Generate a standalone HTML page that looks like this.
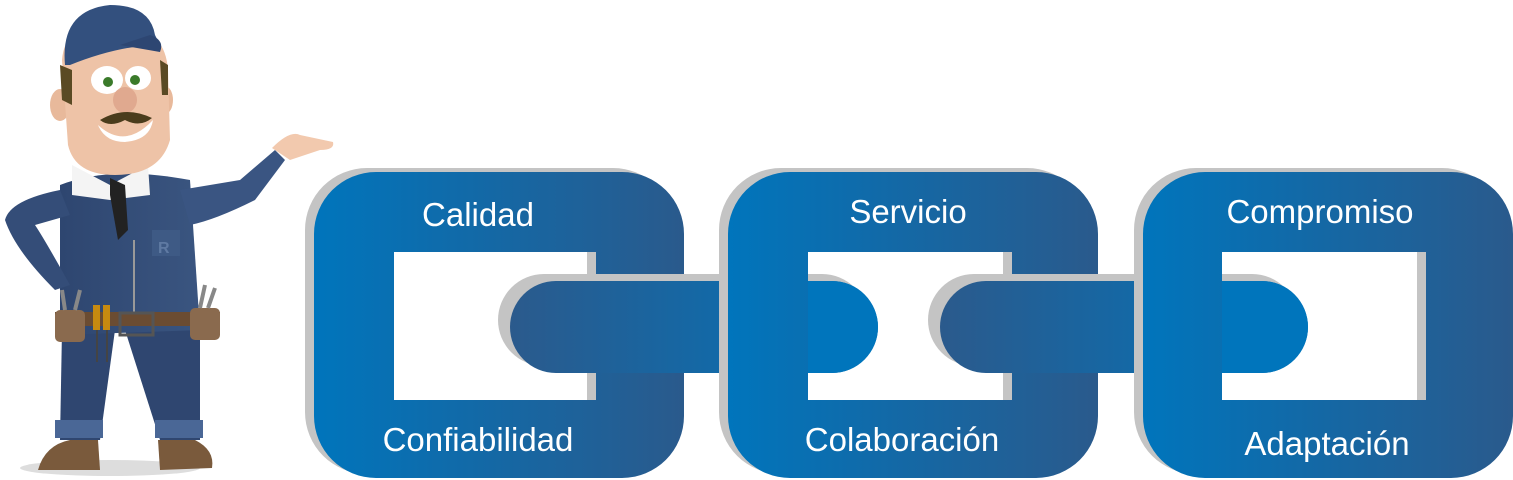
<!DOCTYPE html>
<html><head><meta charset="utf-8"><style>
html,body{margin:0;padding:0;background:#fff;width:1513px;height:480px;overflow:hidden}
svg{display:block}
text{font-family:"Liberation Sans",sans-serif;fill:#fff;font-size:33px}
</style></head><body>
<svg width="1513" height="480" viewBox="0 0 1513 480" xmlns="http://www.w3.org/2000/svg">
<defs>
<linearGradient id="lg" x1="0" x2="1" y1="0" y2="0"><stop offset="0" stop-color="#0075bc"/><stop offset="1" stop-color="#2a5a8c"/></linearGradient>
<linearGradient id="cg" x1="0" x2="1" y1="0" y2="0"><stop offset="0" stop-color="#2b5a8c"/><stop offset="1" stop-color="#0075bc"/></linearGradient>
<linearGradient id="suit" x1="0" x2="1"><stop offset="0" stop-color="#2e4670"/><stop offset="1" stop-color="#3a5580"/></linearGradient>
</defs>

<g>
<ellipse cx="110" cy="468" rx="90" ry="8" fill="#ddd"/>
<path d="M62 330 L115 330 L100 440 L60 440 Z" fill="#2f4670"/>
<path d="M125 330 L200 330 L200 440 L160 440 Z" fill="#2f4670"/>
<rect x="55" y="420" width="48" height="18" fill="#4a6796"/>
<rect x="155" y="420" width="48" height="18" fill="#4a6796"/>
<path d="M38 470 Q45 445 70 440 L98 440 L100 470 Z" fill="#7a5a3c"/>
<path d="M158 440 L195 440 Q215 450 212 468 L160 470 Z" fill="#7a5a3c"/>
<path d="M60 185 Q110 165 190 180 L200 330 L60 335 Z" fill="url(#suit)"/>
<path d="M60 190 Q10 200 5 220 Q15 250 55 290 L70 285 Q45 240 35 225 L70 215 Z" fill="#344d78"/>
<path d="M180 190 L240 180 L275 150 L285 160 L255 200 Q215 220 190 225 Z" fill="#3a5582"/>
<path d="M272 148 Q290 130 300 135 L333 142 Q335 150 320 150 L290 160 Z" fill="#f2c9ae"/>
<path d="M72 165 L110 185 L148 165 L150 195 L110 200 L72 195 Z" fill="#f4f4f4"/>
<path d="M110 178 L125 185 L128 230 L118 240 L110 195 Z" fill="#222"/>
<rect x="152" y="230" width="28" height="26" fill="#3e5a85"/>
<text x="158" y="253" style="font-size:16px;fill:#5f7aa3;font-weight:bold">R</text>
<line x1="134" y1="240" x2="134" y2="315" stroke="#999" stroke-width="2"/>
<rect x="55" y="312" width="165" height="14" fill="#6b4c32"/>
<rect x="55" y="310" width="30" height="32" rx="5" fill="#8a6a4e"/>
<rect x="190" y="308" width="30" height="32" rx="5" fill="#8a6a4e"/>
<rect x="120" y="313" width="33" height="22" fill="none" stroke="#555" stroke-width="3"/>
<rect x="93" y="305" width="7" height="25" fill="#c78a10"/><rect x="103" y="305" width="7" height="25" fill="#c78a10"/>
<line x1="97" y1="330" x2="97" y2="362" stroke="#444" stroke-width="2"/><line x1="107" y1="330" x2="107" y2="362" stroke="#444" stroke-width="2"/>
<path d="M65 310 L62 290 M75 310 L80 290 M200 308 L205 285 M208 308 L215 288" stroke="#888" stroke-width="4"/>
<ellipse cx="60" cy="105" rx="10" ry="16" fill="#e8b99b"/>
<ellipse cx="165" cy="100" rx="8" ry="14" fill="#e8b99b"/>
<path d="M62 60 Q65 20 115 25 Q165 25 168 70 L170 140 Q160 175 115 175 Q75 175 68 145 Z" fill="#eec3a7"/>
<path d="M60 65 L72 70 L72 105 L62 100 Z M160 60 L168 65 L168 95 L162 95 Z" fill="#5a4a24"/>
<path d="M65 65 Q60 10 110 5 Q150 5 155 35 L160 45 Q120 45 70 65 Z" fill="#33507e"/>
<path d="M150 35 Q165 40 160 52 L120 45 Z" fill="#2d4672"/>
<ellipse cx="107" cy="80" rx="16" ry="14" fill="#fff"/><ellipse cx="138" cy="78" rx="13" ry="12" fill="#fff"/>
<circle cx="108" cy="82" r="5" fill="#3a7a2a"/><circle cx="135" cy="80" r="5" fill="#3a7a2a"/>
<ellipse cx="125" cy="100" rx="12" ry="13" fill="#e0a98f"/>
<path d="M100 120 Q125 105 152 118 Q140 128 125 120 Q110 128 100 120Z" fill="#4a3c1c"/>
<path d="M98 125 Q125 150 153 120 Q150 140 125 142 Q105 142 98 125Z" fill="#fff"/>
</g>

<path fill="#c4c4c4" fill-rule="evenodd" d="M367 168 H613 A62 62 0 0 1 675 230 V412 A62 62 0 0 1 613 474 H367 A62 62 0 0 1 305 412 V230 A62 62 0 0 1 367 168 Z M385 252 H587 V400 H385 Z"/>
<path fill="url(#lg)" fill-rule="evenodd" d="M376 172 H622 A62 62 0 0 1 684 234 V416 A62 62 0 0 1 622 478 H376 A62 62 0 0 1 314 416 V234 A62 62 0 0 1 376 172 Z M394 252 H596 V400 H394 Z"/>
<rect x="498" y="274" width="370" height="92" rx="46" fill="#c4c4c4"/>
<rect x="510" y="281" width="368" height="92" rx="46" fill="url(#cg)"/>
<path fill="#c4c4c4" fill-rule="evenodd" d="M781 168 H1027 A62 62 0 0 1 1089 230 V412 A62 62 0 0 1 1027 474 H781 A62 62 0 0 1 719 412 V230 A62 62 0 0 1 781 168 Z M799 252 H1003 V400 H799 Z"/>
<path fill="url(#lg)" fill-rule="evenodd" d="M790 172 H1036 A62 62 0 0 1 1098 234 V416 A62 62 0 0 1 1036 478 H790 A62 62 0 0 1 728 416 V234 A62 62 0 0 1 790 172 Z M808 252 H1012 V400 H808 Z"/>
<path d="M808 281 H832 A46 46 0 0 1 832 373 H808 Z" fill="#0075bc"/>
<rect x="928" y="274" width="370" height="92" rx="46" fill="#c4c4c4"/>
<rect x="940" y="281" width="368" height="92" rx="46" fill="url(#cg)"/>
<path fill="#c4c4c4" fill-rule="evenodd" d="M1196 168 H1442 A62 62 0 0 1 1504 230 V412 A62 62 0 0 1 1442 474 H1196 A62 62 0 0 1 1134 412 V230 A62 62 0 0 1 1196 168 Z M1213 252 H1417 V400 H1213 Z"/>
<path fill="url(#lg)" fill-rule="evenodd" d="M1205 172 H1451 A62 62 0 0 1 1513 234 V416 A62 62 0 0 1 1451 478 H1205 A62 62 0 0 1 1143 416 V234 A62 62 0 0 1 1205 172 Z M1222 252 H1426 V400 H1222 Z"/>
<path d="M1222 281 H1262 A46 46 0 0 1 1262 373 H1222 Z" fill="#0075bc"/>

<text x="478" y="226" text-anchor="middle">Calidad</text>
<text x="478" y="451" text-anchor="middle">Confiabilidad</text>
<text x="908" y="223" text-anchor="middle">Servicio</text>
<text x="902" y="451" text-anchor="middle">Colaboración</text>
<text x="1320" y="223" text-anchor="middle">Compromiso</text>
<text x="1327" y="455" text-anchor="middle">Adaptación</text>
</svg>
</body></html>
